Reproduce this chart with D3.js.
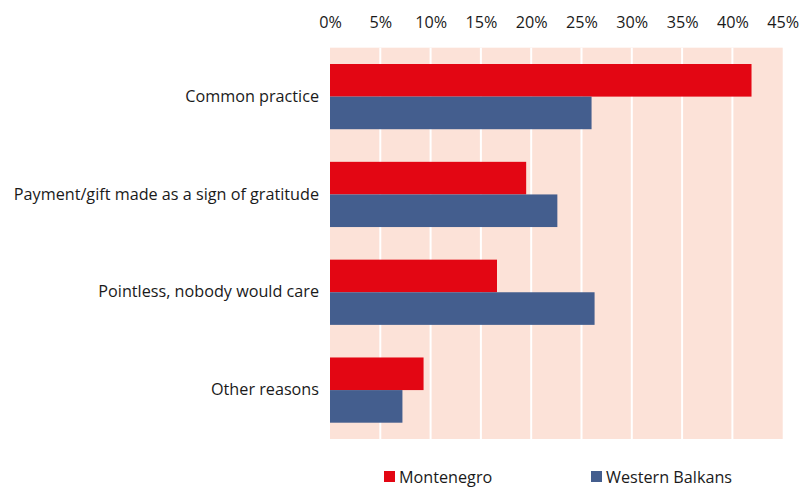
<!DOCTYPE html>
<html><head><meta charset="utf-8">
<script src="https://cdn.jsdelivr.net/npm/d3@7"></script>
<style>html,body{margin:0;padding:0;background:#fff;overflow:hidden}</style>
</head><body>
<svg id="c" width="800" height="488"></svg>
<script>
const categories = ["Common practice","Payment/gift made as a sign of gratitude","Pointless, nobody would care","Other reasons"];
const seriesNames = ["Montenegro","Western Balkans"];
const montenegro = [41.9, 19.5, 16.6, 9.3];
const westernBalkans = [26.0, 22.6, 26.3, 7.2];
const tickValues = [0,5,10,15,20,25,30,35,40,45];
const colors = ["#E30613","#445E8E"];

(function(){
const svg = d3.select("#c");
const font = "'Open Sans', sans-serif";
const fs = 16.2;
const pLeft = 330, pRight = 782.7, pTop = 47.7, pBottom = 439;

const x = d3.scaleLinear().domain([0,45]).range([pLeft,pRight]);
const y = d3.scaleBand().domain(categories).range([pTop,pBottom]).paddingInner(1/3).paddingOuter(1/6);
const sub = d3.scaleBand().domain(seriesNames).range([0,y.bandwidth()]);

svg.append("rect").attr("x",pLeft).attr("y",pTop).attr("width",pRight-pLeft).attr("height",pBottom-pTop).attr("fill","#FCE2D8");

svg.append("g").selectAll("line").data(tickValues.slice(1,-1)).join("line")
  .attr("x1",d=>x(d)).attr("x2",d=>x(d)).attr("y1",pTop).attr("y2",pBottom)
  .attr("stroke","#fff").attr("stroke-width",2);

const ax = svg.append("g").attr("transform",`translate(0,${pTop-17})`)
  .call(d3.axisTop(x).tickValues(tickValues).tickFormat(d=>d+"%").tickSize(0));
ax.select(".domain").remove();
ax.selectAll("text").attr("font-family",font).attr("font-size",fs).attr("fill","#1a1a1a").attr("dy","0");

const data = categories.map((c,i)=>({c, vals:[montenegro[i], westernBalkans[i]]}));
const g = svg.append("g").selectAll("g").data(data).join("g").attr("transform",d=>`translate(0,${y(d.c)})`);
g.selectAll("rect").data(d=>d.vals.map((v,j)=>({v,s:seriesNames[j],j}))).join("rect")
  .attr("x",x(0)).attr("y",d=>sub(d.s)).attr("width",d=>x(d.v)-x(0)).attr("height",sub.bandwidth())
  .attr("fill",d=>colors[d.j]);

const ay = svg.append("g").attr("transform",`translate(${pLeft-11},0)`)
  .call(d3.axisLeft(y).tickSize(0));
ay.select(".domain").remove();
ay.selectAll("text").attr("font-family",font).attr("font-size",fs).attr("fill","#1a1a1a").attr("x",0);

const legX = [384, 591];
const leg = svg.append("g").selectAll("g").data(seriesNames).join("g")
  .attr("transform",(d,i)=>`translate(${legX[i]},471)`);
leg.append("rect").attr("width",11).attr("height",11).attr("fill",(d,i)=>colors[i]);
leg.append("text").attr("x",15).attr("y",11.5).attr("font-family",font).attr("font-size",fs).attr("fill","#1a1a1a").text(d=>d);
})();
</script>
</body></html>
